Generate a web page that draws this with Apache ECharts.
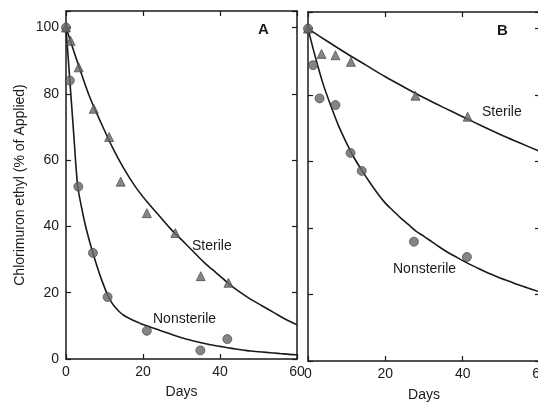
<!DOCTYPE html>
<html>
<head>
<meta charset="utf-8">
<script src="https://cdn.jsdelivr.net/npm/echarts@6/dist/echarts.min.js"></script>
<style>
html,body{margin:0;padding:0;background:#fff;}
#chart{width:538px;height:403px;}
</style>
</head>
<body>
<div id="chart"></div>
<script>
// ---- Data ----
var xTicks = [0, 20, 40, 60];
var yTicks = [0, 20, 40, 60, 80, 100];

// Panel A measured points
var aSterileDays = [0, 1.2, 3.3, 7.2, 11.2, 14.2, 21, 28.4, 35, 42.2];
var aSterileVals = [100, 96, 88, 75.5, 67, 53.5, 44, 38, 25, 23];
var aNonDays = [0, 1, 3.2, 7, 10.8, 21, 34.9, 41.9];
var aNonVals = [100, 84, 52, 32, 18.7, 8.5, 2.6, 6];

// Panel A fitted curves
var aSterileCurveDays = [0, 3, 6, 9, 12, 15, 18, 21, 24, 27, 30, 33, 36, 39, 42, 45, 48, 51, 54, 57, 60];
var aSterileCurveVals = [100, 89.5, 79.5, 71.5, 64, 57.5, 52, 47.5, 43.5, 39.5, 36, 32.5, 29, 26, 23, 20.3, 18, 16, 14, 12, 10.3];
var aNonCurveDays = [0, 1, 2, 3, 4, 5, 6, 7, 8, 9, 10, 11, 12, 13, 14, 15, 16, 17, 18, 19, 20, 22, 24, 26, 28, 30, 32, 34, 36, 38, 40, 42, 44, 46, 48, 50, 52, 54, 56, 58, 60];
var aNonCurveVals = [100, 84, 68, 52.5, 46, 40.5, 36, 32, 28.2, 24.7, 21.6, 18.8, 16.8, 15.3, 14.1, 13.2, 12.5, 11.9, 11.4, 10.9, 10.4, 9.6, 8.8, 8.0, 7.2, 6.4, 5.8, 5.2, 4.7, 4.2, 3.8, 3.4, 3.0, 2.7, 2.4, 2.2, 2.0, 1.8, 1.6, 1.4, 1.3];

// Panel B measured points
var bSterileDays = [0, 3.5, 7.1, 11.1, 27.8, 41.3];
var bSterileVals = [100, 92.4, 92, 90, 79.8, 73.5];
var bNonDays = [0, 1.3, 3, 7.1, 11, 13.9, 27.4, 41.1];
var bNonVals = [100, 89, 79, 77, 62.6, 57.2, 35.9, 31.3];

// Panel B fitted curves
var bSterileCurveDays = [0, 5, 10, 15, 20, 25, 30, 35, 40, 45, 50, 55, 60];
var bSterileCurveVals = [100, 96.2, 92.5, 89, 85.5, 82.3, 79.2, 76.3, 73.5, 70.7, 68, 65.5, 63];
var bNonCurveDays = [0, 2, 4, 6, 8, 10, 12, 14, 16, 18, 20, 22, 24, 26, 28, 30, 32, 34, 36, 38, 40, 42, 44, 46, 48, 50, 52, 54, 56, 58, 60];
var bNonCurveVals = [100, 91, 83, 76.5, 70.5, 65.5, 61, 57.2, 53.7, 50.4, 47.5, 45.2, 43, 41, 39, 37.5, 35.9, 34.3, 32.8, 31.5, 30.2, 29, 27.9, 26.8, 25.8, 24.8, 24, 23.1, 22.3, 21.5, 20.8];

var panelLabels = ['A', 'B'];
var yTitle = 'Chlorimuron ethyl (% of Applied)';
var xTitle = 'Days';
var sterileText = 'Sterile';
var nonText = 'Nonsterile';

function pairs(xs, ys) { return xs.map(function (x, i) { return [x, ys[i]]; }); }

var FONT = 'Liberation Sans, Arial, sans-serif';
var INK = '#1a1a1a';
var MARK = '#666666';

function xAxisPair(gi) {
  return [
    {
      type: 'value', gridIndex: gi, position: 'bottom', min: 0, max: 60, interval: 20,
      axisLine: { show: true, onZero: false, lineStyle: { color: INK, width: 1.5 } },
      axisTick: { show: true, inside: true, length: 5, lineStyle: { color: INK, width: 1.2 } },
      axisLabel: { show: true, margin: 6, color: INK, fontFamily: FONT, fontSize: 14, hideOverlap: false },
      splitLine: { show: false },
      name: xTitle, nameLocation: 'middle', nameGap: gi === 0 ? 26 : 27,
      nameTextStyle: { color: INK, fontFamily: FONT, fontSize: 14 }
    },
    {
      type: 'value', gridIndex: gi, position: 'top', min: 0, max: 60, interval: 20,
      axisLine: { show: true, onZero: false, lineStyle: { color: INK, width: 1.5 } },
      axisTick: { show: true, inside: true, length: 5, lineStyle: { color: INK, width: 1.2 } },
      axisLabel: { show: false }, splitLine: { show: false }
    }
  ];
}
function yAxisPair(gi) {
  return [
    {
      type: 'value', gridIndex: gi, position: 'left', min: 0, max: 105, interval: 20,
      axisLine: { show: true, onZero: false, lineStyle: { color: INK, width: 1.5 } },
      axisTick: { show: true, inside: true, length: 5, lineStyle: { color: INK, width: 1.2 } },
      axisLabel: {
        show: gi === 0, margin: 7, color: INK, fontFamily: FONT, fontSize: 14,
        formatter: function (v) { return v % 20 === 0 ? String(v) : ''; }
      },
      splitLine: { show: false },
      name: gi === 0 ? yTitle : '', nameLocation: 'middle', nameGap: 39,
      nameTextStyle: { color: INK, fontFamily: FONT, fontSize: 14 }
    },
    {
      type: 'value', gridIndex: gi, position: 'right', min: 0, max: 105, interval: 20,
      axisLine: { show: true, onZero: false, lineStyle: { color: INK, width: 1.5 } },
      axisTick: { show: true, inside: true, length: 5, lineStyle: { color: INK, width: 1.2 } },
      axisLabel: { show: false }, splitLine: { show: false }
    }
  ];
}

function curve(xi, yi, d) {
  return {
    type: 'line', xAxisIndex: xi, yAxisIndex: yi, data: d, showSymbol: false, symbol: 'none',
    smooth: 0.3,
    lineStyle: { color: INK, width: 1.6 }, z: 3, silent: true
  };
}
function pts(xi, yi, d, sym) {
  return {
    type: 'scatter', xAxisIndex: xi, yAxisIndex: yi, data: d, symbol: sym,
    symbolSize: 9,
    itemStyle: { color: MARK, borderColor: '#3a3a3a', borderWidth: 0.8 }, z: 4, silent: true
  };
}

var chart = echarts.init(document.getElementById('chart'), null, { renderer: 'canvas' });
chart.setOption({
  backgroundColor: '#ffffff',
  animation: false,
  textStyle: { fontFamily: FONT },
  grid: [
    { left: 66, top: 11, right: 241, bottom: 44, outerBoundsMode: 'none', containLabel: false },
    { left: 308, top: 12, right: -2, bottom: 42, outerBoundsMode: 'none', containLabel: false }
  ],
  xAxis: xAxisPair(0).concat(xAxisPair(1)),
  yAxis: yAxisPair(0).concat(yAxisPair(1)),
  series: [
    curve(0, 0, pairs(aSterileCurveDays, aSterileCurveVals)),
    curve(0, 0, pairs(aNonCurveDays, aNonCurveVals)),
    pts(0, 0, pairs(aSterileDays, aSterileVals), 'triangle'),
    pts(0, 0, pairs(aNonDays, aNonVals), 'circle'),
    curve(2, 2, pairs(bSterileCurveDays, bSterileCurveVals)),
    curve(2, 2, pairs(bNonCurveDays, bNonCurveVals)),
    pts(2, 2, pairs(bSterileDays, bSterileVals), 'triangle'),
    pts(2, 2, pairs(bNonDays, bNonVals), 'circle')
  ],
  graphic: [
    { type: 'text', left: 258, top: 22, style: { text: panelLabels[0], font: 'bold 15px ' + FONT, fill: INK } },
    { type: 'text', left: 497, top: 23, style: { text: panelLabels[1], font: 'bold 15px ' + FONT, fill: INK } },
    { type: 'text', left: 192, top: 239, style: { text: sterileText, font: '14px ' + FONT, fill: INK } },
    { type: 'text', left: 153, top: 312, style: { text: nonText, font: '14px ' + FONT, fill: INK } },
    { type: 'text', left: 482, top: 105, style: { text: sterileText, font: '14px ' + FONT, fill: INK } },
    { type: 'text', left: 393, top: 262, style: { text: nonText, font: '14px ' + FONT, fill: INK } }
  ]
});
</script>
</body>
</html>
